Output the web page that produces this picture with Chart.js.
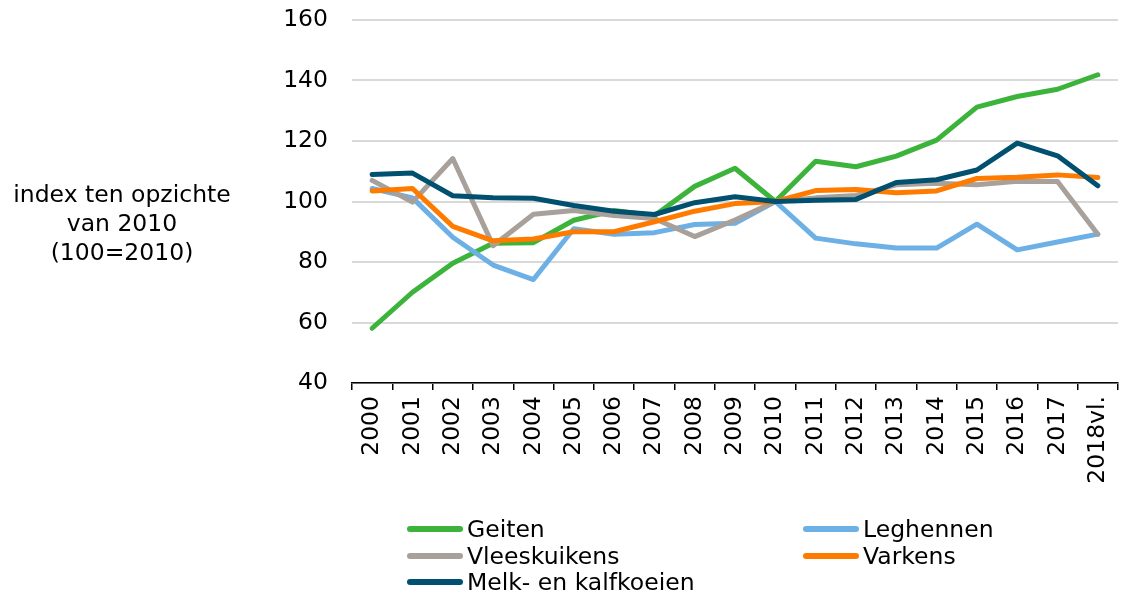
<!DOCTYPE html>
<html>
<head>
<meta charset="utf-8">
<script src="https://cdn.jsdelivr.net/npm/chart.js@4/dist/chart.umd.min.js"></script>
<style>
  html, body { margin:0; padding:0; background:#fff; }
  #wrap { position:relative; width:1122px; height:596px; font-family:"DejaVu Sans", Verdana, sans-serif; color:#000; }
  #c { position:absolute; left:0; top:0; }
  #ylab { position:absolute; left:0; width:244px; top:180px; text-align:center; font-size:23.5px; line-height:29px; }
  .leg { position:absolute; display:flex; align-items:center; font-size:23.5px; height:27px; white-space:nowrap; }
  .leg .sw { width:56px; height:6px; border-radius:3px; margin-right:4px; }
</style>
</head>
<body>
<div id="wrap">
  <canvas id="c" width="1122" height="596"></canvas>
  <div id="ylab">index ten opzichte<br>van 2010<br>(100=2010)</div>
  <div id="legend"></div>
</div>
<script>
const years = ['2000','2001','2002','2003','2004','2005','2006','2007','2008','2009','2010','2011','2012','2013','2014','2015','2016','2017','2018vl.'];
const geiten      = [58.1, 70.0, 79.6, 86.2, 86.4, 93.8, 97.0, 95.3, 105.0, 111.0, 100.0, 113.3, 111.5, 115.0, 120.3, 131.2, 134.7, 137.1, 141.9];
const leghennen   = [104.3, 101.2, 88.2, 79.0, 74.2, 91.0, 89.2, 89.7, 92.4, 92.8, 100.0, 87.9, 86.0, 84.6, 84.6, 92.5, 84.0, 86.6, 89.2];
const vleeskuikens= [107.0, 99.8, 114.2, 85.4, 95.8, 97.0, 95.4, 94.4, 88.4, 93.9, 100.0, 101.2, 102.0, 105.5, 106.0, 105.5, 106.7, 106.6, 89.2];
const varkens     = [103.5, 104.3, 91.8, 87.0, 87.6, 90.0, 90.0, 93.3, 96.8, 99.3, 100.0, 103.6, 104.0, 102.9, 103.5, 107.6, 108.0, 108.8, 107.9];
const melk        = [108.9, 109.4, 101.9, 101.2, 101.1, 98.7, 96.8, 95.7, 99.6, 101.6, 100.0, 100.4, 100.7, 106.3, 107.2, 110.4, 119.3, 115.1, 105.2];
const seriesNames = ['Geiten','Leghennen','Vleeskuikens','Varkens','Melk- en kalfkoeien'];
const seriesColors = ['#3cb33a','#6db0e5','#a8a09a','#ff7b00','#01506f'];
const seriesData = [geiten, leghennen, vleeskuikens, varkens, melk];
const yTicks = [40, 60, 80, 100, 120, 140, 160];

const tickFont = { family: '"DejaVu Sans", Verdana, sans-serif', size: 23.5 };

const datasets = seriesNames.map((n, i) => ({
  label: n,
  data: seriesData[i],
  borderColor: seriesColors[i],
  backgroundColor: seriesColors[i],
  borderWidth: 5,
  pointRadius: 0,
  tension: 0,
  fill: false,
  borderCapStyle: 'round',
  borderJoinStyle: 'round',
  order: seriesNames.length - i
}));

const chart = new Chart(document.getElementById('c'), {
  type: 'line',
  data: { labels: years, datasets },
  options: {
    responsive: false,
    animation: false,
    layout: { padding: { left: 0, right: 4, top: 20, bottom: 0 } },
    plugins: { legend: { display: false }, tooltip: { enabled: false } },
    scales: {
      x: {
        offset: true,
        grid: { offset: true, drawOnChartArea: false, drawTicks: true, tickLength: 7, color: '#000', lineWidth: 1.5 },
        border: { display: true, color: '#000', width: 1.5 },
        ticks: { minRotation: 90, maxRotation: 90, autoSkip: false, font: tickFont, color: '#000', padding: 6 },
        afterFit(s) { s.height = 213; s.paddingLeft = 0; s.paddingRight = 0; }
      },
      y: {
        min: 40, max: 160,
        afterBuildTicks(s) { s.ticks = yTicks.map(v => ({ value: v })); },
        ticks: { font: tickFont, color: '#000', padding: 24 },
        grid: { color: '#d9d9d9', lineWidth: 2, drawTicks: false },
        border: { display: false },
        afterFit(s) { s.width = 352; s.paddingTop = 0; s.paddingBottom = 0; }
      }
    }
  }
});

// HTML legend built from the chart's datasets (two columns)
const legend = document.getElementById('legend');
const colX = [407, 803];
const rowY = [515, 542, 568];
chart.data.datasets.forEach((ds, i) => {
  const d = document.createElement('div');
  d.className = 'leg';
  d.style.left = colX[i % 2] + 'px';
  d.style.top = rowY[Math.floor(i / 2)] + 'px';
  const sw = document.createElement('span');
  sw.className = 'sw';
  sw.style.background = ds.borderColor;
  const t = document.createElement('span');
  t.textContent = ds.label;
  d.appendChild(sw); d.appendChild(t);
  legend.appendChild(d);
});
</script>
</body>
</html>
